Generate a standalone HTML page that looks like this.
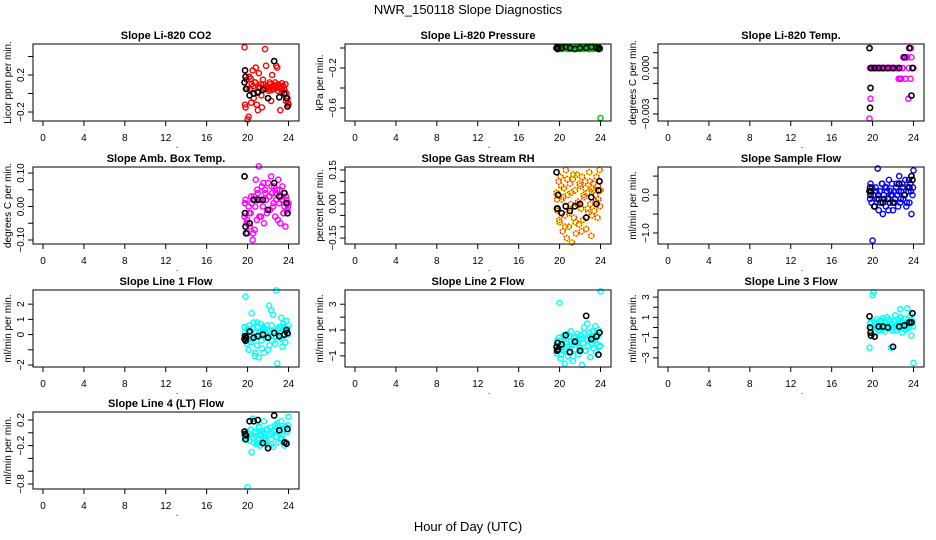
<!DOCTYPE html>
<html><head><meta charset="utf-8"><style>
body{margin:0;background:#fff}
svg{display:block;font-family:"Liberation Sans",sans-serif}
</style></head><body>
<svg id="c" width="936" height="540" viewBox="0 0 936 540">
<text x="468" y="14" text-anchor="middle" font-size="13">NWR_150118  Slope Diagnostics</text>
<text x="468" y="531" text-anchor="middle" font-size="13">Hour of Day (UTC)</text>
</svg>
<script>
// shared timestamps (hours UTC)
const hours = [19.7,19.8,19.9,20.0,20.1,20.2,20.3,20.4,20.5,20.6,20.7,20.8,20.9,21.0,21.1,21.2,21.3,21.4,21.5,21.6,21.7,21.8,21.9,22.0,22.1,22.2,22.3,22.4,22.5,22.6,22.7,22.8,22.9,23.0,23.1,23.2,23.3,23.4,23.5,23.6,23.7,23.8,23.9,24.0,
19.75,19.95,20.15,20.35,20.55,20.75,20.95,21.15,21.35,21.55,21.75,21.95,22.15,22.35,22.55,22.75,22.95,23.15,23.35,23.55,23.75,23.95];
const blackHours = [19.7,19.75,19.8,19.85,20.2,20.6,21.0,21.5,22.0,22.6,23.1,23.6,23.8,23.9];
const xTicks = [0,4,8,12,16,20,24];

const co2 = [0.50,-0.15,0.15,-0.28,-0.25,0.05,0.16,0.10,0.25,-0.05,0.12,0.28,-0.12,-0.18,0.22,0.07,0.10,-0.15,0.15,0.06,0.48,0.30,0.08,0.05,0.03,0.10,-0.08,0.20,0.08,0.05,0.12,0.30,0.28,0.10,0.06,-0.18,0.05,0.02,0.08,0.04,0.10,0.00,-0.05,-0.12,
-0.12,0.05,0.18,-0.10,0.08,0.12,0.02,0.06,-0.02,0.10,0.05,0.07,0.12,0.04,0.09,0.06,0.03,0.08,0.11,0.05,-0.08,-0.10];
const co2Black = [0.12,0.25,0.18,0.05,-0.02,0.0,0.01,0.04,-0.05,0.35,-0.04,0.0,-0.05,-0.14];

const pressure = [0.00,0.01,-0.01,0.00,0.01,0.00,-0.01,0.00,0.01,0.00,0.00,-0.01,0.01,0.00,0.00,0.01,-0.01,0.00,0.00,0.01,0.00,-0.01,0.00,0.01,0.00,0.00,-0.01,0.01,0.00,0.00,0.01,-0.01,0.00,0.00,0.01,0.00,-0.01,0.00,0.01,0.00,0.00,-0.01,0.00,-0.70,
0.00,0.01,-0.01,0.00,0.01,0.00,-0.01,0.00,0.01,0.00,0.00,-0.01,0.01,0.00,0.00,0.01,-0.01,0.00,0.00,0.01,0.00,-0.01];
const pressureBlack = [0.00,0.01,-0.01,0.00,0.00,0.01,0.00,-0.01,0.00,0.00,0.01,0.00,-0.01,0.00];

const temp = [-0.0033,-0.0020,0,0,0,0,0,0,0,0,0,0,0,0,0,0,0,0,0,0,0,0,0,0,0,0,0,0,0,0,-0.0007,-0.0007,0,0.0007,0.0007,-0.0007,0.0007,0.0007,-0.0020,0.0013,-0.0007,0.0007,0,0,
0,0,0,0,0,0,0,0,0,0,0,0,0,0,-0.0007,-0.0007,0,0.0007,0.0007,0,0.0013,0];
const tempBlack = [0.0013,-0.0026,-0.0013,0,0,0,0,0,0,0,0.0007,0.0013,-0.0018,0];

const amb = [-0.03,0.02,-0.05,-0.08,0.00,-0.06,-0.02,0.01,-0.10,0.03,-0.07,0.08,-0.04,0.04,0.12,0.02,-0.03,0.06,0.00,-0.05,0.05,0.02,-0.02,0.07,0.03,-0.01,0.09,0.04,0.00,0.06,-0.03,0.02,0.05,0.08,0.01,-0.05,0.03,0.06,-0.02,0.00,-0.06,0.02,-0.01,0.01,
0.01,-0.04,-0.02,0.03,-0.08,0.00,0.05,-0.03,0.02,0.07,0.04,-0.01,0.03,0.06,0.01,0.04,-0.04,0.05,0.02,-0.02,0.03,0.00];
const ambBlack = [0.09,-0.02,-0.06,-0.08,-0.05,0.02,0.02,0.02,-0.01,0.07,0.03,0.04,0.01,-0.02];

const rh = [0.05,-0.03,0.10,-0.08,0.12,0.02,-0.12,0.07,-0.05,0.15,-0.15,0.04,-0.10,0.09,0.00,-0.17,0.11,-0.06,0.06,-0.13,0.13,0.01,-0.09,0.08,-0.02,0.12,-0.07,0.03,0.10,-0.11,0.05,-0.04,0.14,0.00,-0.14,0.07,0.09,-0.03,0.04,0.12,-0.06,0.02,0.15,0.06,
0.02,-0.07,0.08,0.03,-0.10,0.11,-0.04,0.05,0.13,-0.08,0.00,0.09,-0.12,0.04,0.07,-0.02,0.10,-0.05,0.06,0.01,0.08,-0.01];
const rhBlack = [0.14,-0.02,-0.02,0.04,-0.04,-0.01,-0.03,-0.01,0.00,-0.06,0.03,0.00,0.06,0.10];

const sample = [0.1,0.3,-0.2,-1.2,0.0,-0.3,0.2,-0.1,0.7,-0.4,0.1,-0.2,0.3,-0.5,0.0,0.2,-0.3,0.1,-0.1,0.4,-0.2,0.0,0.3,-0.4,0.1,-0.1,0.2,0.0,-0.3,0.5,-0.2,0.1,0.3,-0.1,0.0,0.4,-0.3,0.2,0.1,-0.2,0.3,-0.5,0.0,0.65,
-0.1,0.2,-0.3,0.1,0.0,-0.2,0.3,-0.1,0.2,-0.4,0.1,0.0,-0.2,0.3,0.1,-0.1,0.2,0.0,-0.2,0.4,0.1,0.2];
const sampleBlack = [0.1,0.2,0.0,0.1,-0.3,-0.1,-0.2,-0.1,-0.2,0.3,0.0,0.2,0.5,0.4];

const line1 = [0.5,2.5,-0.1,0.4,-1.0,0.3,-0.5,1.4,-0.3,0.8,-1.4,0.2,-0.7,0.5,-1.5,0.0,0.7,-0.9,0.3,-1.2,0.4,-0.2,0.6,-1.0,1.9,0.2,1.6,-0.4,1.3,0.1,-0.6,2.9,-1.9,0.3,0.5,-0.2,1.1,-0.8,0.7,0.3,-0.5,0.9,0.4,0.6,
0.1,-0.6,0.6,-0.3,0.4,-1.2,0.8,0.2,-0.4,0.5,0.0,0.3,-0.7,0.6,0.2,-0.1,0.4,0.1,-0.3,0.5,0.2,0.0];
const line1Black = [-0.3,-0.1,-0.4,-0.2,0.2,-0.2,-0.1,0.0,-0.2,0.1,-0.1,0.0,0.3,0.1];

const line2 = [-0.8,0.2,-0.5,3.1,-1.2,0.1,-0.6,0.6,-1.6,0.3,-0.3,-1.0,0.5,-0.8,0.9,-0.1,-1.4,0.4,-0.5,0.1,0.7,-0.9,0.2,-0.3,0.6,-1.7,0.0,1.2,-0.6,0.3,1.5,-0.2,0.8,-1.1,0.4,0.9,-0.4,0.2,1.3,-0.7,0.5,1.0,-0.3,4.0,
-0.3,0.4,-0.9,0.2,-0.5,0.7,-0.2,0.1,-1.0,0.5,0.0,-0.4,0.3,0.8,-0.6,0.2,0.5,-0.1,0.4,0.0,0.6,-0.2];
const line2Black = [-0.3,-0.6,0.0,-0.5,-0.1,0.6,-0.7,0.1,-0.6,2.1,0.3,0.5,-0.9,0.8];

const line3 = [-2.0,0.5,0.0,3.2,3.5,0.2,-0.5,0.8,0.1,-0.3,0.6,0.0,-0.2,0.9,0.3,-0.4,0.5,1.0,0.1,-0.1,0.7,-2.0,0.4,0.0,0.6,1.2,-0.3,0.3,0.8,0.0,1.8,0.2,-0.5,0.5,0.9,0.1,-0.2,1.9,0.4,0.0,1.2,-0.8,0.6,-3.5,
0.4,-0.1,0.6,0.0,0.3,0.7,-0.2,0.5,0.1,0.8,0.2,-0.3,0.6,0.0,0.4,1.0,0.2,-0.1,0.5,0.3,0.7,0.1];
const line3Black = [1.1,0.0,-0.5,-0.8,-0.9,0.1,0.1,0.0,-1.9,0.1,0.2,0.5,0.5,1.4];

const line4 = [-0.05,-0.08,-0.10,-0.85,-0.02,-0.12,0.05,-0.30,0.22,-0.15,0.00,-0.05,-0.18,-0.10,0.10,-0.20,-0.02,0.02,-0.12,0.18,-0.08,0.05,-0.15,-0.04,-0.20,0.08,-0.10,0.00,-0.22,0.02,0.12,-0.06,0.15,-0.14,0.04,-0.10,0.18,-0.02,0.06,-0.20,0.10,-0.15,0.02,0.25,
-0.10,0.00,-0.12,0.05,-0.08,0.02,-0.15,0.08,-0.05,0.00,-0.12,0.06,-0.02,-0.18,0.04,-0.06,0.10,0.00,-0.10,0.05,-0.15,0.12];
const line4Black = [0.02,-0.02,-0.10,-0.04,0.18,0.18,0.20,-0.16,-0.24,0.27,0.04,-0.15,-0.17,0.06];

const co2Ticks=[-0.2,0,0.2,0.4], co2Labels=["-0.2","0.2"];
const pressureTicks=[-0.6,-0.4,-0.2,0], pressureLabels=["-0.2","-0.6"];
const tempTicks=[-0.003,-0.002,-0.001,0,0.001], tempLabels=["0.000","-0.003"];
const ambTicks=[-0.10,-0.05,0,0.05,0.10], ambLabels=["-0.10","0.00","0.10"];
const rhTicks=[-0.15,-0.10,-0.05,0,0.05,0.10,0.15], rhLabels=["0.15","0.00","-0.15"];
const sampleTicks=[-1.0,-0.5,0,0.5], sampleLabels=["0.0","-1.0"];
const line1Ticks=[-2,-1,0,1,2], line1Labels=["2","1","0","-2"];
const line2Ticks=[-1,0,1,2,3], line2Labels=["3","1","-1"];
const line3Ticks=[-3,-2,-1,0,1,2,3], line3Labels=["3","1","-1","-3"];
const line4Ticks=[-0.8,-0.6,-0.4,-0.2,0,0.2], line4Labels=["0.2","-0.2","-0.8"];

const NS="http://www.w3.org/2000/svg";
const svg=document.getElementById('c');
const colL=[33,345,658], rowT=[44,167,290,412], W=266, H=77;
function mk(tag,attrs,parent){const e=document.createElementNS(NS,tag);for(const k in attrs)e.setAttribute(k,attrs[k]);(parent||svg).appendChild(e);return e;}

const panels=[
 {key:'co2',title:'Slope Li-820 CO2',ylab:'Licor ppm per min.',vals:co2,blk:co2Black,ticks:co2Ticks,labels:co2Labels,ylim:[-0.297,0.535],col:'#ff0000'},
 {key:'pressure',title:'Slope Li-820 Pressure',ylab:'kPa per min.',vals:pressure,blk:pressureBlack,ticks:pressureTicks,labels:pressureLabels,ylim:[-0.73,0.04],col:'#00cc00'},
 {key:'temp',title:'Slope Li-820 Temp.',ylab:'degrees C per min.',vals:temp,blk:tempBlack,ticks:tempTicks,labels:tempLabels,ylim:[-0.00346,0.00157],col:'#ff00ff'},
 {key:'amb',title:'Slope Amb. Box Temp.',ylab:'degrees C per min.',vals:amb,blk:ambBlack,ticks:ambTicks,labels:ambLabels,ylim:[-0.112,0.118],col:'#ff00ff'},
 {key:'rh',title:'Slope Gas Stream RH',ylab:'percent per min.',vals:rh,blk:rhBlack,ticks:rhTicks,labels:rhLabels,ylim:[-0.176,0.163],col:'rh'},
 {key:'sample',title:'Slope Sample Flow',ylab:'ml/min per min.',vals:sample,blk:sampleBlack,ticks:sampleTicks,labels:sampleLabels,ylim:[-1.29,0.74],col:'#0000ff'},
 {key:'line1',title:'Slope Line 1 Flow',ylab:'ml/min per min.',vals:line1,blk:line1Black,ticks:line1Ticks,labels:line1Labels,ylim:[-2.13,2.93],col:'#00ffff'},
 {key:'line2',title:'Slope Line 2 Flow',ylab:'ml/min per min.',vals:line2,blk:line2Black,ticks:line2Ticks,labels:line2Labels,ylim:[-1.86,4.1],col:'#00ffff'},
 {key:'line3',title:'Slope Line 3 Flow',ylab:'ml/min per min.',vals:line3,blk:line3Black,ticks:line3Ticks,labels:line3Labels,ylim:[-3.9,3.7],col:'#00ffff'},
 {key:'line4',title:'Slope Line 4 (LT) Flow',ylab:'ml/min per min.',vals:line4,blk:line4Black,ticks:line4Ticks,labels:line4Labels,ylim:[-0.878,0.325],col:'#00ffff'}
];

panels.forEach((p,i)=>{
  const L=colL[i%3], T=rowT[Math.floor(i/3)];
  const g=mk('g',{});
  
  
  const xs=h=>L+10+h*245.5/24;
  const ys=v=>T+H-(v-p.ylim[0])/(p.ylim[1]-p.ylim[0])*H;
  const t=mk('text',{x:L+W/2,y:T-5,'text-anchor':'middle','font-size':11,'font-weight':'bold'},g);
  t.textContent=p.title;
  
  
  xTicks.forEach(v=>{
    const x=xs(v);
    mk('line',{x1:x,y1:T+H,x2:x,y2:T+H+5,stroke:'#000','stroke-width':1},g);
    const lt=mk('text',{x:x,y:T+H+20,'text-anchor':'middle','font-size':10},g);
    lt.textContent=v;
    
    
  });
  const dot=mk('text',{x:L+144,y:T+H+27,'text-anchor':'middle','font-size':9},g);dot.textContent='.';
  p.ticks.forEach(v=>{
    const y=ys(v);
    mk('line',{x1:L-5,y1:y,x2:L,y2:y,stroke:'#000','stroke-width':1},g);
    let lbl=null;
    p.labels.forEach(l=>{if(Math.abs(parseFloat(l)-v)<1e-9) lbl=l;});
    if(lbl!==null){
      const lt=mk('text',{x:0,y:0,'text-anchor':'middle','font-size':10,transform:`translate(${L-9},${y}) rotate(-90)`},g);
      lt.textContent=lbl.replace('-','\u2212');
      
      
    }
  });
  const yl=mk('text',{x:0,y:0,'text-anchor':'middle','font-size':10,transform:`translate(${L-22},${T+H/2}) rotate(-90)`},g);
  yl.textContent=p.ylab;
  
  
  const n=Math.min(hours.length,p.vals.length);
  for(let k=0;k<n;k++){
    const cx=xs(hours[k]), cy=ys(p.vals[k]);
    if(p.col==='rh'){
      const c=mk('circle',{cx,cy,r:2.6,fill:'none',stroke:'#ffee00','stroke-width':1.4},g);
      
      
      mk('circle',{cx,cy,r:2.6,fill:'none',stroke:'#ff2000','stroke-width':1.4,'stroke-dasharray':'1.4 1.4'},g);
    } else {
      const c=mk('circle',{cx,cy,r:2.6,fill:'none',stroke:p.col,'stroke-width':1.4},g);
      
      
    }
  }
  const m=Math.min(blackHours.length,p.blk.length);
  for(let k=0;k<m;k++){
    const c=mk('circle',{cx:xs(blackHours[k]),cy:ys(p.blk[k]),r:2.6,fill:'none',stroke:'#000','stroke-width':1.6},g);
    
    
  }
  const box=mk('rect',{x:L,y:T,width:W,height:H,fill:'none',stroke:'#000','stroke-width':1},g);
  
  
});
</script>
</body></html>
